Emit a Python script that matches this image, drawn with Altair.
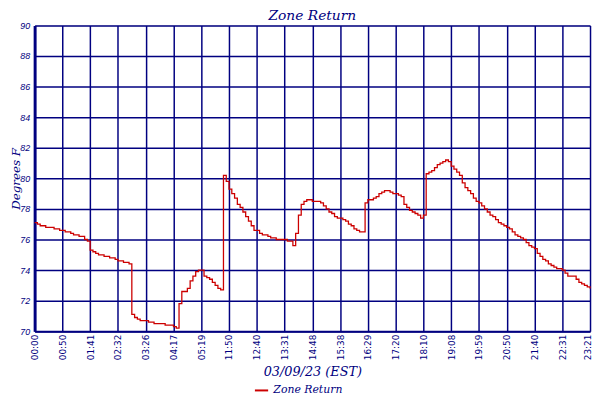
import altair as alt
import pandas as pd

time_labels = ["00:00", "00:50", "01:41", "02:32", "03:26", "04:17", "05:19",
               "11:50", "12:40", "13:31", "14:48", "15:38", "16:29", "17:20",
               "18:10", "19:08", "19:59", "20:50", "21:40", "22:31", "23:21"]

temps = [
    77.1, 77.0, 76.9, 76.9, 76.8, 76.8, 76.8, 76.7, 76.7, 76.6,
    76.6, 76.5, 76.5, 76.4, 76.3, 76.3, 76.2, 76.2, 76.0, 75.9,
    75.3, 75.2, 75.1, 75.0, 75.0, 74.9, 74.9, 74.8, 74.8, 74.7,
    74.6, 74.6, 74.5, 74.5, 74.4, 71.1, 70.9, 70.8, 70.7, 70.7,
    70.7, 70.6, 70.6, 70.5, 70.5, 70.5, 70.5, 70.4, 70.4, 70.4,
    70.3, 70.2, 71.8, 72.6, 72.6, 72.8, 73.3, 73.6, 73.9, 74.0,
    74.0, 73.6, 73.5, 73.4, 73.2, 73.0, 72.8, 72.7, 80.2, 79.8,
    79.3, 79.0, 78.7, 78.3, 78.1, 77.8, 77.5, 77.2, 76.9, 76.6,
    76.6, 76.4, 76.3, 76.3, 76.2, 76.1, 76.1, 76.0, 76.0, 76.0,
    76.0, 75.9, 75.9, 75.6, 76.4, 77.6, 78.3, 78.5, 78.6, 78.6,
    78.5, 78.5, 78.5, 78.4, 78.2, 78.0, 77.8, 77.7, 77.5, 77.4,
    77.4, 77.3, 77.2, 77.0, 76.9, 76.7, 76.6, 76.5, 76.5, 78.4,
    78.6, 78.6, 78.7, 78.8, 79.0, 79.1, 79.2, 79.2, 79.1, 79.0,
    79.0, 78.9, 78.8, 78.3, 78.1, 77.9, 77.8, 77.7, 77.6, 77.4,
    77.6, 80.3, 80.4, 80.5, 80.7, 80.9, 81.0, 81.1, 81.2, 81.1,
    80.8, 80.6, 80.4, 80.2, 79.7, 79.4, 79.2, 79.0, 78.7, 78.5,
    78.4, 78.2, 78.0, 77.8, 77.6, 77.5, 77.3, 77.1, 77.0, 76.9,
    76.8, 76.7, 76.5, 76.3, 76.2, 76.1, 76.0, 75.8, 75.6, 75.5,
    75.4, 75.1, 74.9, 74.7, 74.6, 74.4, 74.3, 74.2, 74.1, 74.1,
    74.0, 73.8, 73.6, 73.6, 73.6, 73.4, 73.2, 73.1, 73.0, 72.9,
    72.8,
]

series_name = "Zone Return"
step = 10
n_max = step * (len(time_labels) - 1)

df = pd.DataFrame({"idx": list(range(len(temps))), "temp": temps,
                   "series": [series_name] * len(temps)})

NAVY = "#000080"
RED = "#cc0000"
label_arr = "[" + ",".join("'" + t + "'" for t in time_labels) + "]"

chart = alt.Chart(df).mark_line(interpolate="step-after", strokeWidth=1.3).encode(
    x=alt.X("idx:Q",
            scale=alt.Scale(domain=[0, n_max], nice=False, zero=False),
            axis=alt.Axis(values=list(range(0, n_max + 1, step)),
                          labelExpr=label_arr + "[round(datum.value/" + str(step) + ")]",
                          labelAngle=270, labelFontSize=9, labelFont="DejaVu Sans",
                          labelColor=NAVY, labelPadding=3, ticks=False,
                          labelOverlap=False, labelBound=False, labelFlush=False,
                          labelOffset={"condition": {"test": "datum.value == " + str(n_max),
                                                     "value": -3}, "value": 0},
                          grid=True, gridColor=NAVY, gridWidth=1.5,
                          domainColor=NAVY, domainWidth=2,
                          title="03/09/23 (EST)", titleFont="DejaVu Serif",
                          titleFontStyle="italic", titleFontWeight="normal",
                          titleFontSize=13, titleColor=NAVY,
                          titleY=45, titleBaseline="alphabetic")),
    y=alt.Y("temp:Q",
            scale=alt.Scale(domain=[70, 90], nice=False, zero=False),
            axis=alt.Axis(values=list(range(70, 91, 2)),
                          labelFontSize=9, labelFont="Liberation Sans",
                          labelFontStyle="italic", labelColor=NAVY,
                          labelPadding=5, ticks=False, labelFlush=False,
                          grid=True, gridColor=NAVY, gridWidth=1.5,
                          domainColor=NAVY, domainWidth=3,
                          title="Degrees F", titleFont="DejaVu Serif",
                          titleFontStyle="italic", titleFontWeight="normal",
                          titleFontSize=12, titleColor=NAVY,
                          titleX=-15, titleY=155, titleAngle=270,
                          titleAlign="center", titleBaseline="alphabetic")),
    color=alt.Color("series:N",
                    scale=alt.Scale(domain=[series_name], range=[RED]),
                    legend=alt.Legend(title=None, orient="none",
                                      legendX=222, legendY=362,
                                      labelFont="DejaVu Serif",
                                      labelFontStyle="italic",
                                      labelFontSize=11, labelColor=NAVY,
                                      symbolType="stroke", symbolSize=180,
                                      symbolStrokeWidth=2)),
).properties(
    width=563, height=310,
    padding={"left": 27, "top": 15, "right": 2, "bottom": 66},
    autosize=alt.AutoSizeParams(type="none"),
    title=alt.TitleParams(series_name, font="DejaVu Serif", fontStyle="italic",
                          fontWeight="normal", fontSize=14, color=NAVY,
                          offset=-1, anchor="middle"),
).configure_view(stroke=NAVY, strokeWidth=3).configure(background="white")

chart.save("out.html", embed_options={"renderer": "svg", "actions": False})
